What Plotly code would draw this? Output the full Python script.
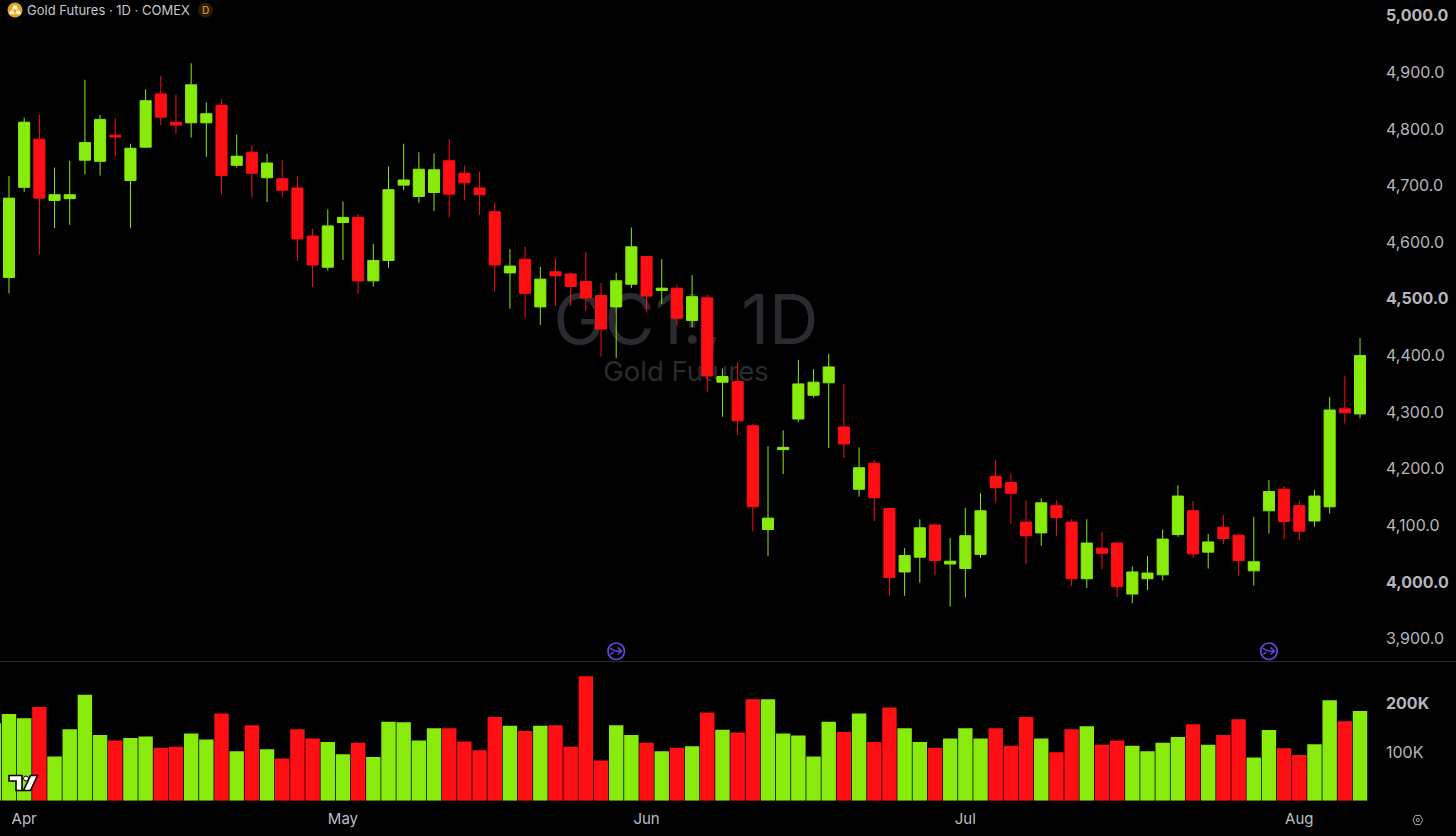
import plotly.graph_objects as go

# ---- data ----
opens = [4536,4695,4780,4672,4675,4743,4741,4787,4707,4766,4860,4810,4809,4809,4840,4734,4757,4712,4710,4694,
         4609,4554,4633,4642,4530,4566,4699,4679,4686,4742,4720,4694,4652,4544,4568,4484,4546,4542,4529,4504,
         4484,4524,4573,4513,4517,4460,4500,4351,4352,4274,4091,4232,4286,4328,4350,4272,4162,4208,4128,4016,
         4042,4099,4030,4022,4047,4185,4174,4104,4085,4133,4104,4004,4058,4067,3977,4004,4011,4082,4124,4051,
         4095,4081,4018,4124,4162,4133,4106,4131,4304,4295]
highs = [4715,4818,4823,4730,4742,4885,4823,4817,4772,4868,4892,4858,4914,4845,4851,4788,4769,4754,4743,4714,
         4622,4656,4670,4648,4595,4732,4772,4757,4755,4780,4733,4723,4668,4586,4590,4555,4570,4544,4581,4526,
         4544,4624,4574,4568,4523,4540,4506,4375,4386,4278,4238,4266,4390,4374,4401,4348,4236,4214,4129,4058,
         4109,4101,4076,4129,4155,4214,4190,4142,4146,4142,4109,4109,4087,4069,4026,4044,4091,4169,4141,4083,
         4116,4083,4113,4178,4168,4142,4161,4325,4362,4429]
lows = [4508,4687,4577,4623,4629,4718,4716,4750,4623,4765,4805,4789,4783,4749,4683,4730,4677,4669,4678,4565,
        4519,4548,4567,4507,4520,4553,4690,4668,4653,4642,4673,4646,4511,4481,4465,4452,4486,4486,4477,4396,
        4394,4517,4474,4489,4451,4448,4334,4290,4258,4088,4044,4189,4281,4324,4235,4217,4149,4106,3974,3974,
        3997,4010,3955,3971,4041,4138,4101,4030,4062,4079,3991,3988,4021,3972,3961,3984,4001,4078,4041,4022,
        4065,4009,3992,4084,4074,4072,4096,4119,4278,4287]
closes = [4676,4810,4676,4682,4682,4774,4815,4784,4764,4848,4819,4805,4876,4825,4716,4750,4720,4738,4690,4604,
          4558,4627,4642,4530,4566,4691,4708,4727,4726,4683,4703,4682,4558,4556,4508,4533,4539,4520,4500,4445,
          4530,4590,4503,4517,4464,4502,4362,4361,4283,4131,4111,4236,4348,4351,4378,4242,4200,4147,4006,4045,
          4094,4036,4035,4080,4124,4165,4155,4080,4138,4112,4004,4067,4049,3990,4016,4014,4074,4150,4048,4069,
          4075,4036,4034,4158,4105,4088,4150,4302,4297,4398]
up_flags = [1,1,0,1,1,1,1,0,1,1,0,0,1,1,0,1,0,1,0,0,0,1,1,0,1,1,1,1,1,0,0,0,0,1,0,1,0,0,0,0,1,1,0,1,0,1,0,1,
            0,0,1,1,1,1,1,0,1,0,0,1,1,0,1,1,1,0,0,0,1,0,0,1,0,0,1,1,1,1,0,1,0,0,1,1,0,0,1,1,0,1]
volumes = [177,168,191,90,146,216,134,123,128,131,108,110,137,125,178,101,154,105,86,146,
           127,120,95,118,89,161,160,123,148,148,121,103,171,153,142,153,154,110,254,82,
           154,134,118,101,108,111,180,145,139,207,207,137,133,90,161,140,178,120,190,148,
           120,108,127,148,127,148,112,171,127,99,146,152,114,123,112,101,118,130,156,114,
           134,166,88,144,107,93,115,205,162,183]
month_labels = ["Apr", "May", "Jun", "Jul", "Aug"]
month_sessions = [1, 22, 42, 63, 85]
price_ticks = [3900, 4000, 4100, 4200, 4300, 4400, 4500, 4600, 4700, 4800, 4900, 5000]
price_strong = [4000, 4500, 5000]
volume_ticks = [100000, 200000]
volume_labels = ["100K", "<b>200K</b>"]
event_sessions = [40, 83]
event_level = [3876, 3876]

GREEN, RED = "#88EB0C", "#FF0E13"
BG = "#000000"
W, H, PR = 1456, 836, 1383
S0, DS = 9.0, 15.18


def px(x):
    return x / PR


def py(y):
    return 1 - y / H


def path(*cmds):
    out = []
    for c in cmds:
        if isinstance(c, str):
            out.append(c)
        else:
            out.append(f"{px(c[0]):.5f},{py(c[1]):.5f}")
    return " ".join(out)


sessions = list(range(len(opens)))
fig = go.Figure()
fig.add_trace(go.Bar(
    x=[-1] + sessions, y=[158000] + [v * 1000 for v in volumes],
    marker=dict(color=[GREEN] + [GREEN if u else RED for u in up_flags], line=dict(width=0)),
    xaxis="x2", yaxis="y2", hoverinfo="skip"))
fig.add_trace(go.Candlestick(
    x=sessions, open=opens, high=highs, low=lows, close=closes, whiskerwidth=0,
    increasing=dict(line=dict(color=GREEN, width=1), fillcolor=GREEN),
    decreasing=dict(line=dict(color=RED, width=1), fillcolor=RED),
    xaxis="x", yaxis="y", hoverinfo="skip"))
fig.add_trace(go.Scatter(
    x=event_sessions, y=event_level, mode="markers",
    marker=dict(symbol="circle-open", size=16.5, color="#6A45EA", line=dict(width=1.6, color="#6A45EA")),
    xaxis="x", yaxis="y", hoverinfo="skip"))

ticktext = [(f"<b>{v:,.1f}</b>" if v in price_strong else f"{v:,.1f}") for v in price_ticks]
xr = [(0 - S0) / DS, (PR - S0) / DS]
axis_font = dict(family="Inter, Roboto, sans-serif", size=16, color="#B5B7BE")

shapes = [
    dict(type="line", xref="paper", yref="paper", x0=0, x1=W / PR, y0=py(661.5), y1=py(661.5),
         line=dict(color="#2A2B33", width=1)),
    # watermark, behind the candles
    dict(type="rect", xref="paper", yref="paper", layer="below", x0=px(486), x1=px(886), y0=py(357), y1=py(277),
         line=dict(width=0), fillcolor="rgba(0,0,0,0)",
         label=dict(text="GC1!, 1D", textposition="middle center",
                    font=dict(family="Inter, sans-serif", size=68.5, color="#2A2B31"))),
    dict(type="rect", xref="paper", yref="paper", layer="below", x0=px(586), x1=px(786), y0=py(389), y1=py(351),
         line=dict(width=0), fillcolor="rgba(0,0,0,0)",
         label=dict(text="Gold Futures", textposition="middle center",
                    font=dict(family="Inter, sans-serif", size=27.5, color="#2A2B31"))),
    # symbol logo
    dict(type="circle", xref="paper", yref="paper", x0=px(7.5), x1=px(22.5), y0=py(17.5), y1=py(2.5),
         fillcolor="#E8A21A", line=dict(width=0)),
    dict(type="path", xref="paper", yref="paper", fillcolor="#FFF4D8", line=dict(width=0),
         path=path("M", (11.8, 9.4), "L", (18.2, 9.4), "L", (16.6, 5.6), "L", (13.4, 5.6), "Z")),
    dict(type="path", xref="paper", yref="paper", fillcolor="#FFF4D8", line=dict(width=0),
         path=path("M", (9, 14.2), "L", (14.7, 14.2), "L", (13.6, 10.4), "L", (10.2, 10.4), "Z")),
    dict(type="path", xref="paper", yref="paper", fillcolor="#FFF4D8", line=dict(width=0),
         path=path("M", (15.3, 14.2), "L", (21, 14.2), "L", (19.8, 10.4), "L", (16.4, 10.4), "Z")),
    # exchange badge
    dict(type="circle", xref="paper", yref="paper", x0=px(198), x1=px(213), y0=py(17.5), y1=py(2.5),
         fillcolor="#2A1D08", line=dict(width=0)),
    # chart logo
    dict(type="path", xref="paper", yref="paper", fillcolor="#FFFFFF", line=dict(width=1.6, color="#000000"),
         path=path("M", (9, 775.5), "L", (22, 775.5), "L", (22, 790.5), "L", (16, 790.5), "L", (16, 781), "L", (9, 781), "Z")),
    dict(type="circle", xref="paper", yref="paper", x0=px(23.5), x1=px(28.5), y0=py(781), y1=py(776),
         fillcolor="#FFFFFF", line=dict(width=1, color="#000000")),
    dict(type="path", xref="paper", yref="paper", fillcolor="#FFFFFF", line=dict(width=1.6, color="#000000"),
         path=path("M", (30.5, 775.5), "L", (37.5, 775.5), "L", (30.5, 790.5), "L", (23.5, 790.5), "Z")),
    # settings glyph
    dict(type="path", xref="paper", yref="paper", line=dict(width=1, color="#A8AAB0"),
         path=path("M", (1413, 820), "L", (1415.4, 815.4), "L", (1420.2, 815.4), "L", (1422.6, 820), "L", (1420.2, 824.6), "L", (1415.4, 824.6), "Z")),
    dict(type="circle", xref="paper", yref="paper", x0=px(1416.2), x1=px(1419.4), y0=py(821.6), y1=py(818.4),
         line=dict(width=1, color="#A8AAB0")),
]
for s in event_sessions:
    cx, cy = S0 + DS * s, 651
    shapes.append(dict(type="path", xref="paper", yref="paper", line=dict(width=1.4, color="#6A45EA"),
                       path=path("M", (cx - 6, cy - 3), "Q", (cx - 2, cy + 1), (cx + 5.5, cy),
                                 "M", (cx + 1.5, cy - 3.5), "L", (cx + 5.5, cy), "L", (cx + 1.5, cy + 3.5),
                                 "M", (cx - 6, cy + 3.5), "L", (cx - 2.5, cy + 1))))

annotations = [
    dict(text="Gold Futures · 1D · COMEX", xref="paper", yref="paper", x=px(24.5), y=py(10), xanchor="left",
         yanchor="middle", showarrow=False, font=dict(family="Inter, sans-serif", size=13, color="#C6C8CE")),
    dict(text="D", xref="paper", yref="paper", x=px(205.5), y=py(10), xanchor="center", yanchor="middle",
         showarrow=False, font=dict(family="Inter, sans-serif", size=10, color="#F5A623")),
]

fig.update_layout(
    width=W, height=H, margin=dict(l=0, r=W - PR, t=0, b=0, autoexpand=False),
    paper_bgcolor=BG, plot_bgcolor=BG, showlegend=False, hovermode=False,
    dragmode=False, boxgap=0.27, boxgroupgap=0, bargap=0.05,
    xaxis=dict(domain=[0, 1], range=xr, anchor="y", showgrid=False, zeroline=False, showticklabels=False,
               ticks="", showline=False, rangeslider=dict(visible=False), fixedrange=True),
    yaxis=dict(domain=[(H - 661) / H, 1], range=[3858.8, 5025.8], side="right", anchor="x", showgrid=False,
               zeroline=False, showline=False, ticks="", tickvals=price_ticks, ticktext=ticktext,
               tickfont=axis_font, ticklabelstandoff=2, ticklabelshift=1, fixedrange=True),
    xaxis2=dict(domain=[0, 1], range=xr, anchor="y2", showgrid=False, zeroline=False, showline=False,
                tickvals=month_sessions, ticktext=month_labels, ticks="outside", ticklen=4, tickcolor=BG,
                tickfont=dict(family="Inter, sans-serif", size=15, color="#BDBFC6"), fixedrange=True),
    yaxis2=dict(domain=[(H - 800.7) / H, (H - 662) / H], range=[0, 283000], side="right", anchor="x2",
                showgrid=False, zeroline=False, showline=False, ticks="", tickvals=volume_ticks,
                ticktext=volume_labels, tickfont=axis_font, ticklabelstandoff=2, ticklabelshift=1, fixedrange=True),
    shapes=shapes, annotations=annotations,
)

fig.write_html("out.html", config={"displayModeBar": False},
               post_script="document.body.style.margin='0';document.body.style.background='#000';")
